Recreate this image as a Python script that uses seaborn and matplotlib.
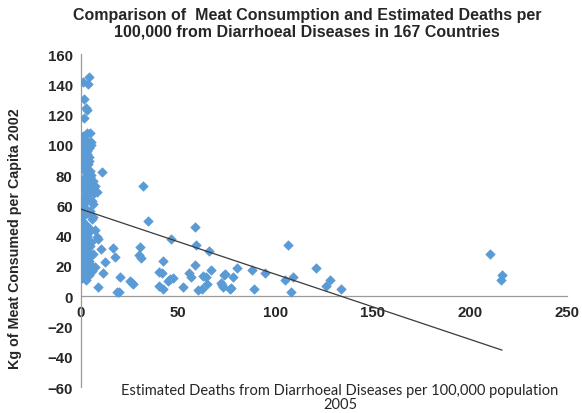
import numpy as np
import pandas as pd
import matplotlib
matplotlib.use("Agg")
import matplotlib.pyplot as plt
import seaborn as sns

# Estimated deaths per 100,000 from diarrhoeal diseases (2005)
deaths_cluster = [4, 1, 3.5, 1.5, 2.5, 3, 1.5, 3, 4.5, 1, 5, 2, 4, 5, 1, 0.5, 3, 1.5, 2.5, 4,
                  2, 3.5, 1, 4.5, 2, 3, 2, 4.5, 6, 1, 3.5, 7, 2, 1, 5.5, 6, 1, 1.5, 4.5, 1,
                  5.5, 7, 2, 8, 8.5, 1, 4.5, 2, 4.5, 2, 1, 3.5, 5.5, 7, 5.5, 2.5,
                  1, 2, 0.5, 3, 1, 2.5, 0.5, 3, 1.5, 0.5, 2, 3, 1, 2.5, 4, 0.5, 1.5, 3, 2,
                  0.5, 3, 0.5, 2, 1, 4, 0.5, 3.5, 2, 5, 6, 4, 1.5, 6, 3, 4, 2.5, 1.5, 5, 3,
                  1, 4, 2, 0.5, 6.5, 2]
meat_cluster = [145, 141.5, 140, 130, 124, 123, 118, 108, 108, 106, 102, 100, 98, 100, 101, 95, 94, 92, 90, 89,
                88.6, 87, 84, 83, 86, 81, 79, 78.6, 76, 73, 74, 73, 67, 64, 63, 61, 60, 54, 56, 53,
                51, 44, 38, 39, 38, 32, 33, 28, 26.5, 24.5, 22, 21, 20, 19, 16.5, 10.6,
                48, 45, 42, 40, 36, 35, 30, 30, 27, 19, 18, 17, 15, 14, 14, 12, 70, 69, 58,
                57, 55, 50, 48, 46, 45, 40, 42, 31, 36, 28, 23, 20, 52, 66, 71, 83, 77, 80, 96,
                98, 92, 104, 88, 68, 62]

deaths_spread = [8, 10.8, 10.3, 16.5, 17.5, 12.3, 11.3, 20, 9, 18.5, 19.5, 32, 34.5, 46.3, 58.6, 59, 66,
                 106.5, 42, 40, 41.5, 58.6, 67, 55.6, 56.5, 63, 64.5, 46, 47.5, 45, 73.5, 78, 80, 88,
                 94.6, 105, 109, 121, 128, 126, 134, 40, 42, 52.5, 60, 62, 65, 72, 73, 76.6, 89, 108,
                 210.4, 216.6, 216, 30.3, 29.8, 31, 26, 27, 25, 74, 77, 72.5]
meat_spread = [69, 82, 31, 32, 26, 22.5, 15, 13, 6, 2.6, 2.8, 73, 50, 38, 45.6, 34, 30,
               34, 23, 16, 15.5, 20.5, 17, 15, 13, 13.5, 12.5, 11.5, 12, 10, 14, 13, 18.5, 17,
               15, 11, 12.5, 18.5, 10.6, 7, 4.6, 7, 4.6, 6, 4, 4.6, 8, 8.6, 6, 5, 4.6, 3,
               27.8, 14, 10.6, 32.4, 27, 25, 8.6, 8, 10, 14.5, 5.3, 7.5]

# Excel linear trendline
trend_intercept = 57.5
trend_slope = -0.43

x_ticks = [0, 50, 100, 150, 200, 250]
y_ticks = [-60, -40, -20, 0, 20, 40, 60, 80, 100, 120, 140, 160]

df = pd.DataFrame({
    "deaths": deaths_cluster + deaths_spread,
    "meat": meat_cluster + meat_spread,
})

sns.set_style("white")
plt.rcParams["font.family"] = ["Liberation Sans", "DejaVu Sans"]

fig = plt.figure(figsize=(5.82, 4.14), dpi=100)
ax = fig.add_axes([81 / 582, 1 - 388 / 414, 486 / 582, 333 / 414])

sns.scatterplot(data=df, x="deaths", y="meat", marker="D", s=24,
                color="#5b9bd5", edgecolor="#5b9bd5", linewidth=0.4, ax=ax, zorder=3)

tx = np.array([0, df["deaths"].max()])
ax.plot(tx, trend_intercept + trend_slope * tx, color="#3a3a3a", lw=0.9, zorder=4)

ax.set_xlim(0, 250)
ax.set_ylim(-60, 160)
ax.set_xticks(x_ticks)
ax.set_yticks(y_ticks)
ax.spines["top"].set_visible(False)
ax.spines["right"].set_visible(False)
ax.spines["bottom"].set_position(("data", 0))
for s in ("left", "bottom"):
    ax.spines[s].set_color("#9a9a9a")
    ax.spines[s].set_linewidth(0.9)
ax.tick_params(axis="both", which="both", direction="out", length=4, width=0.8,
               color="#9a9a9a", labelsize=10.8, pad=2)
for lab in ax.get_xticklabels() + ax.get_yticklabels():
    lab.set_fontweight("bold")

ax.set_xlabel("Estimated Deaths from Diarrhoeal Diseases per 100,000 population\n2005",
              fontsize=10.5, family=["Lato", "DejaVu Sans"], linespacing=1.0)
ax.xaxis.set_label_coords((340 - 81) / 486, 0.012)
ax.set_ylabel("Kg of Meat Consumed per Capita 2002", fontsize=10.3, fontweight="bold")
ax.yaxis.set_label_coords(-0.122, 0.45)

fig.text(307 / 582, 1 - 8 / 414,
         "Comparison of  Meat Consumption and Estimated Deaths per\n100,000 from Diarrhoeal Diseases in 167 Countries",
         ha="center", va="top", fontsize=11.5, fontweight="bold", linespacing=1.12)

fig.savefig("out.png", dpi=100)
